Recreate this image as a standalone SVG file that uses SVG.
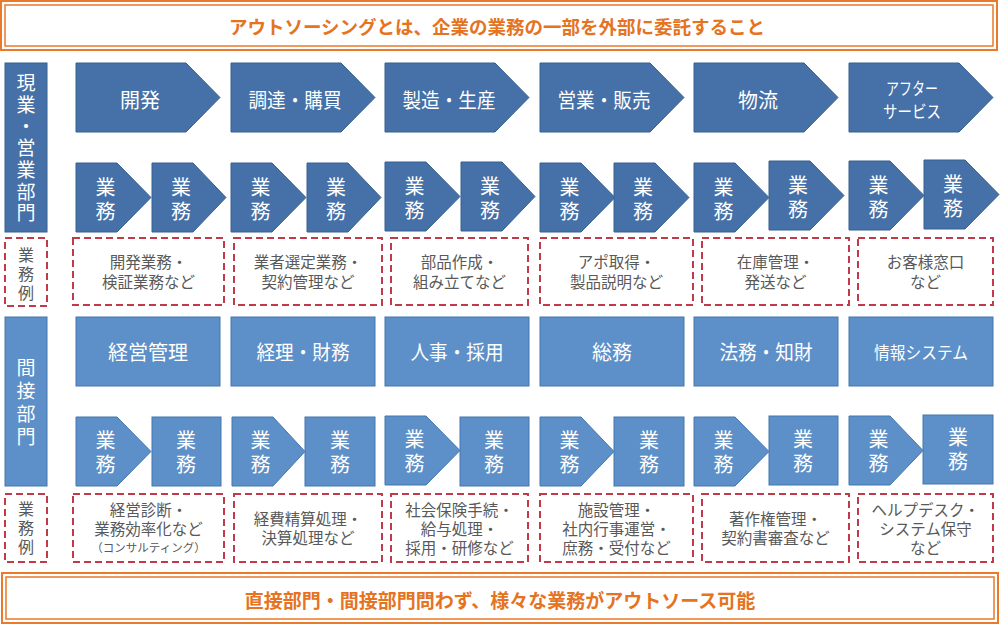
<svg xmlns="http://www.w3.org/2000/svg" width="1000" height="625" viewBox="0 0 1000 625">
<style>
text{font-family:"Noto Sans CJK JP","Noto Sans",sans-serif;dominant-baseline:central;text-anchor:middle}
tspan{dominant-baseline:central}
.vt{writing-mode:vertical-rl;text-orientation:upright}
.ban{fill:#fff;stroke:#E97A2B}
.bt{fill:#E5731F;font-weight:bold}
.d{fill:#4570A8;stroke:#37608F;stroke-width:1}
.l{fill:#5D8FC8;stroke:#4576AE;stroke-width:1}
.w{fill:#fff}
.m{font-size:20px}
.s{font-size:20px}
.v{font-size:19px}
.ex{fill:#fff;stroke:#C03A4A;stroke-width:2;stroke-dasharray:7 4}
.g{fill:#595959;font-size:15.5px}
.gs{fill:#595959;font-size:16px}
.sm{font-size:11.5px}
</style>

<g id="top-banner">
<rect class="ban" x="1" y="1" width="996" height="49" stroke-width="2"/>
<rect class="ban" x="5" y="5" width="988" height="41" stroke-width="1.5"/>
<text class="bt" x="497" y="26" font-size="18.5">アウトソーシングとは、企業の業務の一部を外部に委託すること</text>
</g>

<g id="label-direct">
<rect class="d" x="5" y="63" width="42" height="169"/>
<text class="w v vt" x="26" y="148.25" textLength="149" lengthAdjust="spacing">現業・営業部門</text>
</g>
<g id="label-direct-ex">
<rect class="ex" x="5" y="238" width="42" height="68"/>
<text class="gs vt" x="26" y="274" textLength="54" lengthAdjust="spacing">業務例</text>
</g>

<g id="label-indirect">
<rect class="l" x="5" y="317" width="42" height="169"/>
<text class="w v vt" x="26" y="402.5" textLength="88" lengthAdjust="spacing">間接部門</text>
</g>
<g id="label-indirect-ex">
<rect class="ex" x="5" y="494" width="42" height="68"/>
<text class="gs vt" x="26" y="528" textLength="54" lengthAdjust="spacing">業務例</text>
</g>

<!-- direct main chevrons -->
<g id="main-1"><polygon class="d" points="76,63 186,63 220,97.5 186,132 76,132"/><text class="w m" x="140" y="99">開発</text></g>
<g id="main-2"><polygon class="d" points="231,63 341,63 375,97.5 341,132 231,132"/><text class="w m" x="295" y="99" textLength="93" lengthAdjust="spacingAndGlyphs">調達・購買</text></g>
<g id="main-3"><polygon class="d" points="385,63 495,63 529,97.5 495,132 385,132"/><text class="w m" x="449" y="99" textLength="93" lengthAdjust="spacingAndGlyphs">製造・生産</text></g>
<g id="main-4"><polygon class="d" points="540,63 650,63 684,97.5 650,132 540,132"/><text class="w m" x="604" y="99" textLength="93" lengthAdjust="spacingAndGlyphs">営業・販売</text></g>
<g id="main-5"><polygon class="d" points="694,63 804,63 838,97.5 804,132 694,132"/><text class="w m" x="758" y="99">物流</text></g>
<g id="main-6"><polygon class="d" points="849,63 959,63 993,97.5 959,132 849,132"/><text class="w" font-size="17"><tspan x="912" y="87" textLength="52" lengthAdjust="spacingAndGlyphs">アフター</tspan><tspan x="912" y="110" textLength="58" lengthAdjust="spacingAndGlyphs">サービス</tspan></text></g>

<!-- direct sub chevrons -->
<g id="sub-d-1">
<polygon class="d" points="76,163 117,163 151,197.5 117,232 76,232"/>
<polygon class="d" points="152,163 193,163 226,197.5 193,232 152,232"/>
<text class="w s vt" x="105.5" y="199" textLength="44" lengthAdjust="spacing">業務</text>
<text class="w s vt" x="181" y="199" textLength="44" lengthAdjust="spacing">業務</text>
</g>
<g id="sub-d-2">
<polygon class="d" points="231,163 272,163 306,197.5 272,232 231,232"/>
<polygon class="d" points="307,163 348,163 381,197.5 348,232 307,232"/>
<text class="w s vt" x="260.5" y="199" textLength="44" lengthAdjust="spacing">業務</text>
<text class="w s vt" x="336" y="199" textLength="44" lengthAdjust="spacing">業務</text>
</g>
<g id="sub-d-3">
<polygon class="d" points="385,162 426,162 460,196.5 426,231 385,231"/>
<polygon class="d" points="461,162 502,162 535,196.5 502,231 461,231"/>
<text class="w s vt" x="414.5" y="198" textLength="44" lengthAdjust="spacing">業務</text>
<text class="w s vt" x="490" y="198" textLength="44" lengthAdjust="spacing">業務</text>
</g>
<g id="sub-d-4">
<polygon class="d" points="540,163 581,163 615,197.5 581,232 540,232"/>
<polygon class="d" points="614,163 655,163 689,197.5 655,232 614,232"/>
<text class="w s vt" x="569.5" y="199" textLength="44" lengthAdjust="spacing">業務</text>
<text class="w s vt" x="643" y="199" textLength="44" lengthAdjust="spacing">業務</text>
</g>
<g id="sub-d-5">
<polygon class="d" points="694,163 735,163 769,197.5 735,232 694,232"/>
<polygon class="d" points="769,161 810,161 844,195.5 810,230 769,230"/>
<text class="w s vt" x="723.5" y="199" textLength="44" lengthAdjust="spacing">業務</text>
<text class="w s vt" x="798" y="197" textLength="44" lengthAdjust="spacing">業務</text>
</g>
<g id="sub-d-6">
<polygon class="d" points="849,161 890,161 924,195.5 890,230 849,230"/>
<polygon class="d" points="924,160 965,160 999,194.5 965,229 924,229"/>
<text class="w s vt" x="878.5" y="197" textLength="44" lengthAdjust="spacing">業務</text>
<text class="w s vt" x="953" y="196" textLength="44" lengthAdjust="spacing">業務</text>
</g>

<!-- direct examples -->
<g id="ex-d-1"><rect class="ex" x="73" y="238" width="151" height="67"/><text class="g"><tspan x="148.5" y="261">開発業務・</tspan><tspan x="148.5" y="281">検証業務など</tspan></text></g>
<g id="ex-d-2"><rect class="ex" x="234" y="238" width="148" height="67"/><text class="g"><tspan x="308" y="261">業者選定業務・</tspan><tspan x="308" y="281">契約管理など</tspan></text></g>
<g id="ex-d-3"><rect class="ex" x="391" y="238" width="137" height="67"/><text class="g"><tspan x="459.5" y="261">部品作成・</tspan><tspan x="459.5" y="281">組み立てなど</tspan></text></g>
<g id="ex-d-4"><rect class="ex" x="540" y="238" width="153" height="67"/><text class="g"><tspan x="616.5" y="261">アポ取得・</tspan><tspan x="616.5" y="281">製品説明など</tspan></text></g>
<g id="ex-d-5"><rect class="ex" x="702" y="238" width="147" height="67"/><text class="g"><tspan x="775.5" y="261">在庫管理・</tspan><tspan x="775.5" y="281">発送など</tspan></text></g>
<g id="ex-d-6"><rect class="ex" x="858" y="238" width="135" height="67"/><text class="g"><tspan x="925.5" y="261">お客様窓口</tspan><tspan x="925.5" y="281">など</tspan></text></g>

<!-- indirect main boxes -->
<g id="ind-1"><rect class="l" x="76" y="317" width="144" height="69"/><text class="w m" x="148" y="351.5">経営管理</text></g>
<g id="ind-2"><rect class="l" x="231" y="317" width="144" height="69"/><text class="w m" x="303" y="351.5" textLength="93" lengthAdjust="spacingAndGlyphs">経理・財務</text></g>
<g id="ind-3"><rect class="l" x="385" y="317" width="144" height="69"/><text class="w m" x="457" y="351.5" textLength="93" lengthAdjust="spacingAndGlyphs">人事・採用</text></g>
<g id="ind-4"><rect class="l" x="540" y="317" width="144" height="69"/><text class="w m" x="612" y="351.5">総務</text></g>
<g id="ind-5"><rect class="l" x="694" y="317" width="144" height="69"/><text class="w m" x="766" y="351.5" textLength="93" lengthAdjust="spacingAndGlyphs">法務・知財</text></g>
<g id="ind-6"><rect class="l" x="849" y="317" width="144" height="69"/><text class="w" x="921" y="351.5" font-size="17" textLength="94" lengthAdjust="spacingAndGlyphs">情報システム</text></g>

<!-- indirect sub shapes -->
<g id="sub-i-1">
<polygon class="l" points="76,417 117,417 151,451.5 117,486 76,486"/>
<rect class="l" x="152" y="417" width="69" height="69"/>
<text class="w s vt" x="105.5" y="452" textLength="44" lengthAdjust="spacing">業務</text>
<text class="w s vt" x="186" y="452" textLength="44" lengthAdjust="spacing">業務</text>
</g>
<g id="sub-i-2">
<polygon class="l" points="232,417 273,417 305,451.5 273,486 232,486"/>
<rect class="l" x="305" y="417" width="70" height="69"/>
<text class="w s vt" x="260.5" y="452" textLength="44" lengthAdjust="spacing">業務</text>
<text class="w s vt" x="340" y="452" textLength="44" lengthAdjust="spacing">業務</text>
</g>
<g id="sub-i-3">
<polygon class="l" points="385,416 426,416 460,450.5 426,485 385,485"/>
<rect class="l" x="460" y="417" width="69" height="69"/>
<text class="w s vt" x="414.5" y="451" textLength="44" lengthAdjust="spacing">業務</text>
<text class="w s vt" x="494" y="452" textLength="44" lengthAdjust="spacing">業務</text>
</g>
<g id="sub-i-4">
<polygon class="l" points="540,417 581,417 614,451.5 581,486 540,486"/>
<rect class="l" x="614" y="417" width="70" height="69"/>
<text class="w s vt" x="569.5" y="452" textLength="44" lengthAdjust="spacing">業務</text>
<text class="w s vt" x="649" y="452" textLength="44" lengthAdjust="spacing">業務</text>
</g>
<g id="sub-i-5">
<polygon class="l" points="694,417 735,417 769,451.5 735,486 694,486"/>
<rect class="l" x="769" y="416" width="69" height="69"/>
<text class="w s vt" x="723.5" y="452" textLength="44" lengthAdjust="spacing">業務</text>
<text class="w s vt" x="803" y="451" textLength="44" lengthAdjust="spacing">業務</text>
</g>
<g id="sub-i-6">
<polygon class="l" points="849,416 890,416 923,450.5 890,485 849,485"/>
<rect class="l" x="923" y="415" width="70" height="69"/>
<text class="w s vt" x="878.5" y="451" textLength="44" lengthAdjust="spacing">業務</text>
<text class="w s vt" x="958" y="449" textLength="44" lengthAdjust="spacing">業務</text>
</g>

<!-- indirect examples -->
<g id="ex-i-1"><rect class="ex" x="73" y="494" width="151" height="68"/><text class="g"><tspan x="148.5" y="509">経営診断・</tspan><tspan x="148.5" y="528">業務効率化など</tspan><tspan class="sm" x="148.5" y="546.5">（コンサルティング）</tspan></text></g>
<g id="ex-i-2"><rect class="ex" x="234" y="494" width="148" height="68"/><text class="g"><tspan x="308" y="518">経費精算処理・</tspan><tspan x="308" y="537">決算処理など</tspan></text></g>
<g id="ex-i-3"><rect class="ex" x="391" y="494" width="137" height="68"/><text class="g"><tspan x="459.5" y="509">社会保険手続・</tspan><tspan x="459.5" y="528">給与処理・</tspan><tspan x="459.5" y="547">採用・研修など</tspan></text></g>
<g id="ex-i-4"><rect class="ex" x="540" y="494" width="153" height="68"/><text class="g"><tspan x="616.5" y="509">施設管理・</tspan><tspan x="616.5" y="528">社内行事運営・</tspan><tspan x="616.5" y="547">庶務・受付など</tspan></text></g>
<g id="ex-i-5"><rect class="ex" x="702" y="494" width="147" height="68"/><text class="g"><tspan x="775.5" y="518">著作権管理・</tspan><tspan x="775.5" y="537">契約書審査など</tspan></text></g>
<g id="ex-i-6"><rect class="ex" x="858" y="494" width="135" height="68"/><text class="g"><tspan x="925.5" y="509">ヘルプデスク・</tspan><tspan x="925.5" y="528">システム保守</tspan><tspan x="925.5" y="547">など</tspan></text></g>

<g id="bottom-banner">
<rect class="ban" x="2" y="573" width="996" height="50" stroke-width="2"/>
<rect class="ban" x="6" y="577" width="988" height="42" stroke-width="1.5"/>
<text class="bt" x="500" y="599" font-size="19">直接部門・間接部門問わず、様々な業務がアウトソース可能</text>
</g>
</svg>
